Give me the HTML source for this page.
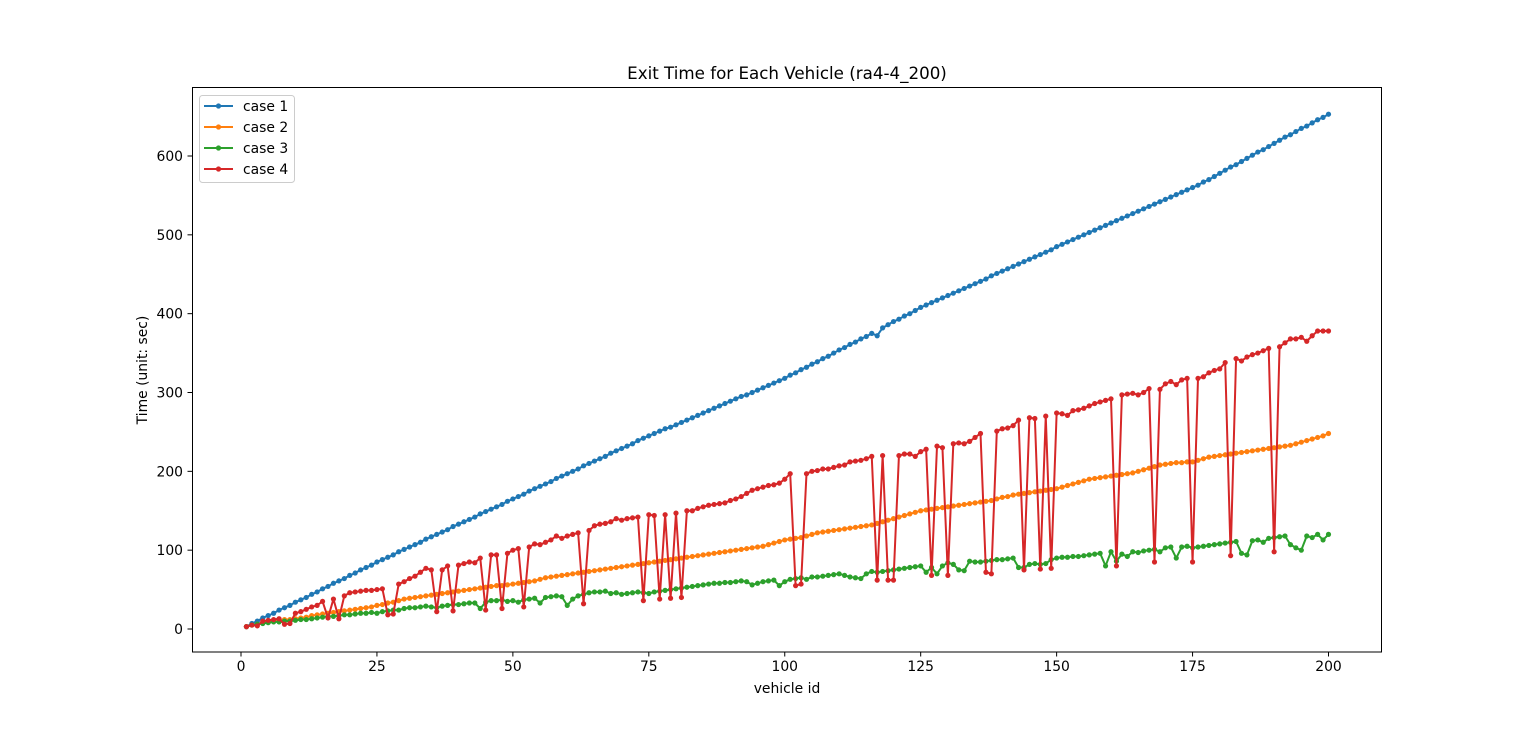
<!DOCTYPE html>
<html><head><meta charset="utf-8"><style>
html,body{margin:0;padding:0;background:#fff;}
svg{display:block;font-family:"DejaVu Sans","Liberation Sans",sans-serif;}
</style></head><body>
<svg id="chart" width="1536" height="733" viewBox="0 0 1536 733" xmlns="http://www.w3.org/2000/svg">
<rect width="1536" height="733" fill="#fff"/>
<text x="787" y="79" font-size="16.7" text-anchor="middle" fill="#000">Exit Time for Each Vehicle (ra4-4_200)</text>
<g id="plot"></g>
<g id="axes"></g>
<rect x="192.5" y="87.5" width="1189" height="564.5" fill="none" stroke="#000" stroke-width="1"/>
<text x="787" y="693" font-size="13.9" text-anchor="middle">vehicle id</text>
<text transform="translate(147,370) rotate(-90)" font-size="13.9" text-anchor="middle">Time (unit: sec)</text>
<g id="legend"></g>
</svg>
<script>
const xTicks=[0,25,50,75,100,125,150,175,200];
const yTicks=[0,100,200,300,400,500,600];
const seriesNames=["case 1","case 2","case 3","case 4"];
const seriesColors=["#1f77b4","#ff7f0e","#2ca02c","#d62728"];
const case1=[3,7,10,14,17,20,24,27,30,34,37,40,44,47,51,54,58,61,64,68,71,75,78,81,85,
88,91,94,98,101,104,107,110,114,117,120,123,126,130,133,136,139,142,146,149,152,155,158,162,165,
168,171,175,178,181,184,187,191,194,197,200,203,207,210,213,216,219,223,226,229,232,235,239,242,245,
248,251,254,256,259,262,265,268,271,274,277,280,283,286,289,292,295,297,300,303,306,309,312,315,318,
322,325,329,332,336,339,343,346,350,354,357,361,364,368,371,375,372,382,386,390,393,397,400,404,408,
411,414,417,420,423,426,429,432,435,438,441,444,448,451,454,457,460,463,466,469,472,475,478,481,485,
488,491,494,497,500,503,506,509,512,515,518,521,524,527,530,533,536,539,542,545,548,551,554,557,560,
563,567,570,574,578,582,586,589,593,597,601,605,608,612,616,620,624,627,631,635,638,642,646,649,653];
const case2=[3,5,6,8,9,10,11,12,12,13,14,15,17,18,19,20,21,22,23,24,25,26,27,28,30,
31,33,34,36,38,39,40,41,42,43,44,45,46,47,48,49,50,51,52,53,54,55,55,56,57,
58,59,60,61,63,65,66,67,68,69,70,71,72,73,74,75,76,77,78,79,80,81,82,83,84,
85,86,87,88,89,90,91,92,93,94,95,96,97,98,99,100,101,102,103,104,105,107,109,111,113,
114,115,116,118,120,122,123,124,125,126,127,128,129,130,131,132,134,136,138,140,142,144,146,148,150,
151,152,153,154,155,156,157,158,159,160,161,162,163,165,167,168,170,171,172,173,174,175,176,177,178,
180,182,184,186,188,190,191,192,193,194,195,196,197,198,200,202,204,206,208,209,210,211,211,212,212,
214,216,218,219,220,221,222,223,224,225,226,227,228,229,230,231,232,233,235,237,239,241,243,245,248];
const case3=[3,5,6,7,8,9,9,10,10,11,12,12,13,14,15,16,16,17,18,18,19,20,20,21,20,
22,23,24,24,26,27,27,28,29,28,27,29,30,31,31,32,33,33,26,34,36,36,37,35,36,
34,37,38,39,33,40,41,42,41,30,38,42,44,46,47,47,48,45,46,44,45,46,47,46,45,
47,48,49,50,51,52,53,54,55,56,57,58,58,59,59,60,61,60,56,58,60,61,62,55,60,
63,64,65,63,66,66,67,68,69,70,68,66,65,64,70,73,72,73,74,75,76,77,78,79,80,
72,78,70,80,84,82,75,74,86,85,85,86,87,88,88,89,90,78,78,82,83,82,83,88,90,
91,91,92,92,93,94,95,96,80,98,86,95,92,98,97,99,100,101,98,103,104,90,104,105,103,
104,105,106,107,108,109,110,111,96,94,112,113,110,115,116,117,118,107,103,100,118,116,120,113,120];
const case4=[3,5,4,10,11,12,13,6,7,20,22,25,28,30,35,14,38,13,42,46,47,48,49,49,50,
51,18,19,57,60,64,67,72,77,75,22,75,80,23,81,83,85,84,90,24,94,94,26,96,100,
102,28,104,108,107,110,113,118,115,118,120,122,32,125,131,133,134,136,140,138,140,141,142,36,145,
144,38,145,39,147,40,150,150,153,155,157,158,159,160,163,165,168,172,176,178,180,182,183,185,190,
197,55,57,197,200,201,203,203,205,207,208,212,213,214,216,219,62,220,62,62,220,222,222,219,225,
228,68,232,230,68,235,236,235,238,243,248,72,70,251,254,255,258,265,75,268,267,76,270,77,274,
273,271,277,278,280,283,286,288,290,292,80,297,298,299,297,300,305,85,304,311,314,310,316,318,85,
318,320,325,328,330,338,93,343,340,345,348,350,353,356,98,358,363,368,368,370,365,372,378,378,378];
const allSeries=[case1,case2,case3,case4];

const X0=241,X1=1328.5,Y0=629,Y600=156;
const xs=v=>X0+(v)*(X1-X0)/200;
const ys=v=>Y0-(v)*(Y0-Y600)/600;
const NS="http://www.w3.org/2000/svg";
function mk(tag,attrs,parent){const e=document.createElementNS(NS,tag);for(const k in attrs)e.setAttribute(k,attrs[k]);parent.appendChild(e);return e;}
const axes=document.getElementById('axes');
xTicks.forEach(t=>{
  const x=xs(t);
  const l=mk('line',{x1:x,x2:x,y1:652,y2:656.5,stroke:'#000','stroke-width':1},axes);
  
  
  const tx=mk('text',{x:x,y:671,'font-size':13.9,'text-anchor':'middle'},axes);
  tx.textContent=t;
  
  
});
yTicks.forEach(t=>{
  const y=ys(t);
  const l=mk('line',{x1:187.5,x2:192,y1:y,y2:y,stroke:'#000','stroke-width':1},axes);
  
  
  const tx=mk('text',{x:183,y:y+5,'font-size':13.9,'text-anchor':'end'},axes);
  tx.textContent=t;
  
  
});
const plot=document.getElementById('plot');
allSeries.forEach((s,si)=>{
  const g=mk('g',{},plot);
  
  
  const pts=s.map((v,i)=>xs(i+1).toFixed(2)+','+ys(v).toFixed(2)).join(' ');
  const pl=mk('polyline',{points:pts,fill:'none',stroke:seriesColors[si],'stroke-width':2,'stroke-linejoin':'round'},g);
  
  
  s.forEach((v,i)=>{
    const c=mk('circle',{cx:xs(i+1),cy:ys(v),r:2.6,fill:seriesColors[si]},g);
    
    
  });
});
const lg=document.getElementById('legend');
const box=mk('rect',{x:199.5,y:95.5,width:95,height:87,rx:3,fill:'#fff','fill-opacity':0.8,stroke:'#ccc','stroke-width':1},lg);


seriesNames.forEach((n,i)=>{
  const y=106+i*21;
  const ln=mk('line',{x1:204,x2:233,y1:y,y2:y,stroke:seriesColors[i],'stroke-width':2},lg);
  
  
  const c=mk('circle',{cx:218.5,cy:y,r:2.6,fill:seriesColors[i]},lg);
  
  
  const t=mk('text',{x:243,y:y+5,'font-size':13.9},lg);
  t.textContent=n;
  
  
});
</script>
</body></html>
